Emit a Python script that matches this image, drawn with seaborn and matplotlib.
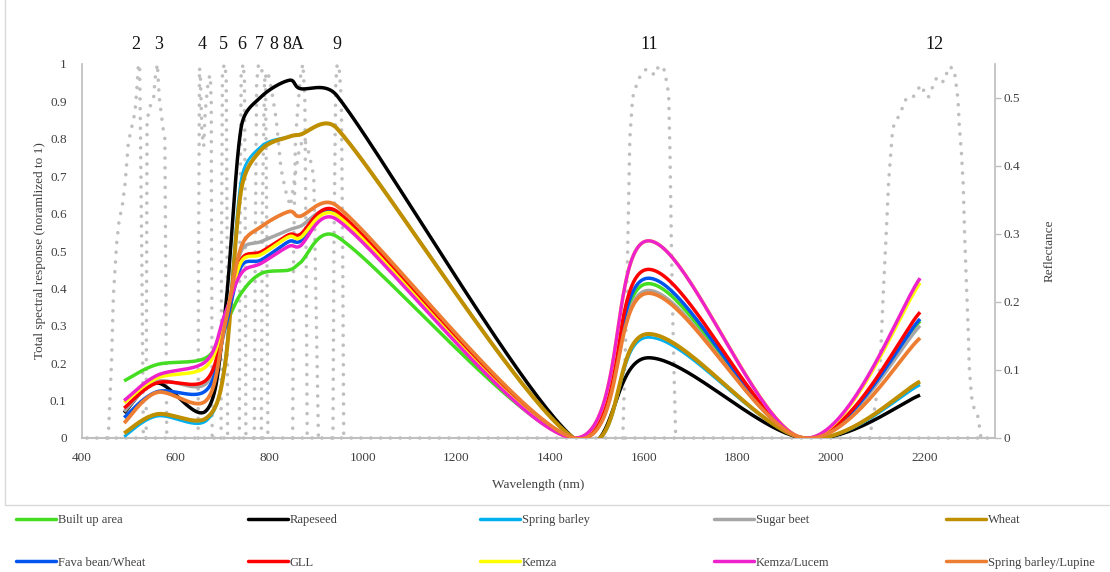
import matplotlib
matplotlib.use("Agg")
import matplotlib.pyplot as plt
from matplotlib.lines import Line2D
from matplotlib.ticker import FuncFormatter, MultipleLocator
import numpy as np
import pandas as pd
import seaborn as sns

# ~~~~~~~~~~~~~~~~~~~~~~~~~~~~~~~~~~~~~~~~~~~~~~~~~~~~~~~~~~~~~~~~~~~~~~~~~~~~~~~~~~
# DATA: mean reflectance per class at Sentinel-2 band centres (right axis)
# ~~~~~~~~~~~~~~~~~~~~~~~~~~~~~~~~~~~~~~~~~~~~~~~~~~~~~~~~~~~~~~~~~~~~~~~~~~~~~~~~~~
wavelength = [490, 560, 665, 705, 740, 783, 842, 865, 945, 1450, 1610, 1940, 2190]

class_names = ["Built up area", "Rapeseed", "Spring barley", "Sugar beet", "Wheat",
               "Fava bean/Wheat", "GLL", "Kemza", "Kemza/Lucem", "Spring barley/Lupine"]
class_colors = ["#44DD22", "#000000", "#00B0F0", "#A6A6A6", "#BF8F00",
                "#0055EE", "#FF0000", "#FFFF00", "#EE22CC", "#ED7D31"]

built_up = [0.084, 0.108, 0.118, 0.165, 0.213, 0.242, 0.247, 0.257, 0.296, 0, 0.227, 0, 0.172]
rapeseed = [0.037, 0.081, 0.040, 0.182, 0.457, 0.502, 0.526, 0.514, 0.503, 0, 0.118, 0, 0.063]
spring_barley = [0.002, 0.032, 0.025, 0.110, 0.380, 0.429, 0.443, 0.446, 0.455, 0, 0.148, 0, 0.078]
sugar_beet = [0.039, 0.083, 0.080, 0.171, 0.275, 0.289, 0.306, 0.311, 0.330, 0, 0.217, 0, 0.165]
wheat = [0.007, 0.035, 0.029, 0.105, 0.365, 0.424, 0.443, 0.446, 0.455, 0, 0.153, 0, 0.083]
fava_wheat = [0.030, 0.068, 0.070, 0.160, 0.252, 0.262, 0.289, 0.289, 0.330, 0, 0.235, 0, 0.175]
gll = [0.044, 0.081, 0.085, 0.171, 0.262, 0.274, 0.299, 0.299, 0.333, 0, 0.248, 0, 0.185]
kemza = [0.052, 0.088, 0.105, 0.176, 0.259, 0.270, 0.296, 0.294, 0.327, 0, 0.290, 0, 0.228]
kemza_lucem = [0.055, 0.092, 0.113, 0.182, 0.242, 0.257, 0.282, 0.282, 0.321, 0, 0.290, 0, 0.235]
barley_lupine = [0.022, 0.067, 0.055, 0.165, 0.281, 0.311, 0.333, 0.326, 0.341, 0, 0.213, 0, 0.147]

class_values = [built_up, rapeseed, spring_barley, sugar_beet, wheat,
                fava_wheat, gll, kemza, kemza_lucem, barley_lupine]

# ~~~~~~~~~~~~~~~~~~~~~~~~~~~~~~~~~~~~~~~~~~~~~~~~~~~~~~~~~~~~~~~~~~~~~~~~~~~~~~~~~~
# Spectral response functions (left axis, normalized to 1)
# ~~~~~~~~~~~~~~~~~~~~~~~~~~~~~~~~~~~~~~~~~~~~~~~~~~~~~~~~~~~~~~~~~~~~~~~~~~~~~~~~~~
b2_wl = [456, 463, 467, 474, 480, 485, 492, 499, 506, 513, 517, 520, 523, 525, 528, 531]
b2_resp = [0, 0.2, 0.38, 0.52, 0.59, 0.61, 0.68, 0.79, 0.83, 0.87, 0.93, 0.99, 1.0, 0.8, 0.45, 0]
b3_wl = [537, 538, 539, 545, 553, 556, 561, 565, 570, 574, 577, 579, 581]
b3_resp = [0, 0.45, 0.85, 0.885, 0.91, 0.96, 1.0, 0.91, 0.86, 0.82, 0.8, 0.4, 0]
b4_wl = [648, 649, 651, 653, 656, 660, 663, 670, 674, 676, 677, 678]
b4_resp = [0, 0.5, 0.99, 0.96, 0.82, 0.78, 0.87, 0.96, 0.97, 0.9, 0.45, 0]
b5_wl = [697, 698, 700, 704, 708, 710, 711]
b5_resp = [0, 0.5, 0.98, 1.0, 0.97, 0.5, 0]
b6_wl = [736, 737, 740, 744, 747, 749, 750]
b6_resp = [0, 0.5, 0.97, 1.0, 0.96, 0.5, 0]
b7_wl = [768, 770, 773, 777, 785, 792, 795, 797]
b7_resp = [0, 0.5, 0.95, 1.0, 0.98, 0.95, 0.5, 0]
b8_wl = [783, 785, 790, 797, 805, 815, 825, 835, 845, 855, 865, 875, 885, 895, 900, 905]
b8_resp = [0, 0.6, 0.96, 0.98, 0.93, 0.85, 0.72, 0.66, 0.62, 0.7, 0.78, 0.8, 0.76, 0.7, 0.35, 0]
b8a_wl = [850, 852, 856, 862, 868, 872, 876, 879, 881]
b8a_resp = [0, 0.5, 0.8, 0.9, 0.98, 1.0, 0.9, 0.45, 0]
b9_wl = [936, 938, 942, 945, 950, 954, 957, 959]
b9_resp = [0, 0.5, 0.95, 1.0, 0.98, 0.9, 0.45, 0]
b11_wl = [1555, 1562, 1567, 1570, 1576, 1587, 1596, 1606, 1615, 1623, 1630, 1641, 1645,
          1649, 1653, 1656, 1659, 1663, 1668]
b11_resp = [0, 0.3, 0.6, 0.8, 0.91, 0.955, 0.976, 0.987, 0.98, 0.97, 0.99, 0.995, 0.976,
            0.95, 0.92, 0.75, 0.5, 0.25, 0]
b12_wl = [2082, 2095, 2105, 2111, 2118, 2123, 2131, 2135, 2145, 2152, 2158, 2173, 2182,
          2193, 2199, 2207, 2214, 2218, 2227, 2240, 2246, 2250, 2261, 2265, 2271, 2274,
          2278, 2282, 2285, 2289, 2293, 2295, 2300, 2306, 2314, 2320]
b12_resp = [0, 0.094, 0.2, 0.377, 0.556, 0.69, 0.82, 0.842, 0.861, 0.882, 0.904, 0.906,
            0.928, 0.944, 0.925, 0.91, 0.925, 0.947, 0.966, 0.952, 0.971, 0.992, 0.989,
            0.966, 0.904, 0.83, 0.77, 0.68, 0.55, 0.41, 0.28, 0.19, 0.11, 0.075, 0.056, 0]
baseline_wl = [410, 2335]
baseline_resp = [0, 0]

srf_bands = [(b2_wl, b2_resp), (b3_wl, b3_resp), (b4_wl, b4_resp), (b5_wl, b5_resp),
             (b6_wl, b6_resp), (b7_wl, b7_resp), (b8_wl, b8_resp), (b8a_wl, b8a_resp),
             (b9_wl, b9_resp), (b11_wl, b11_resp), (b12_wl, b12_resp),
             (baseline_wl, baseline_resp)]

band_labels = ["2", "3", "4", "5", "6", "7", "8", "8A", "9", "11", "12"]
band_label_wl = [515, 563, 657, 702, 742, 779, 809, 851, 945, 1611, 2220]


def excel_smooth(x, y, n=50, sx=0.4675, sy=680.0):
    """Smoothed line through the points: Catmull-Rom Bezier in pixel space,
    control arms clamped to half the segment so short segments do not loop."""
    p = np.column_stack([np.asarray(x, float) * sx, np.asarray(y, float) * sy])
    pe = np.vstack([p[0], p, p[-1]])
    t = np.linspace(0, 1, n)[:, None]
    out = []
    for i in range(len(p) - 1):
        p0, p1, p2, p3 = pe[i], pe[i + 1], pe[i + 2], pe[i + 3]
        d12 = np.hypot(*(p2 - p1))
        a1 = (p2 - p0) / 6
        a2 = (p3 - p1) / 6
        for a in (a1, a2):
            la = np.hypot(*a)
            if la > 0.5 * d12:
                a *= 0.5 * d12 / la
        c1 = p1 + a1
        c2 = p2 - a2
        seg = (1 - t) ** 3 * p1 + 3 * (1 - t) ** 2 * t * c1 + 3 * (1 - t) * t ** 2 * c2 + t ** 3 * p2
        out.append(seg if i == 0 else seg[1:])
    out = np.vstack(out)
    return out[:, 0] / sx, out[:, 1] / sy


# ~~~~~~~~~~~~~~~~~~~~~~~~~~~~~~~~~~~~~~~~~~~~~~~~~~~~~~~~~~~~~~~~~~~~~~~~~~~~~~~~~~
# PLOT
# ~~~~~~~~~~~~~~~~~~~~~~~~~~~~~~~~~~~~~~~~~~~~~~~~~~~~~~~~~~~~~~~~~~~~~~~~~~~~~~~~~~
sns.set_theme(style="white")
plt.rcParams["font.family"] = ["Liberation Serif", "DejaVu Serif"]
text_col = "#404040"
grid_col = "#BFBFBF"

fig = plt.figure(figsize=(11.1, 5.72), dpi=100)
fig.patch.set_facecolor("white")
ax = fig.add_axes([82 / 1110, 134 / 572, 913 / 1110, 374 / 572])
ax2 = ax.twinx()
ax2.patch.set_visible(False)

dotted = (0, (0.01, 2.7))
for wl, resp in srf_bands:
    sns.lineplot(x=wl, y=resp, ax=ax, color="#BFBFBF", lw=2.6, linestyle=dotted,
                 dash_capstyle="round", sort=False, estimator=None, clip_on=False)

rows = []
for name, vals in zip(class_names, class_values):
    xs, ys = excel_smooth(wavelength, vals)
    rows.append(pd.DataFrame({"wl": xs, "refl": ys, "cls": name}))
df = pd.concat(rows, ignore_index=True)

widths = {"Spring barley": 2.0, "Wheat": 2.9, "Spring barley/Lupine": 2.7}
for name, col in zip(class_names, class_colors):
    sub = df[df["cls"] == name]
    sns.lineplot(data=sub, x="wl", y="refl", ax=ax2, color=col, lw=widths.get(name, 2.5),
                 sort=False, estimator=None, solid_capstyle="butt")

fmt = FuncFormatter(lambda v, p: f"{v:g}")
ax.set_xlim(400, 2350)
ax.set_ylim(0, 1)
ax.xaxis.set_major_locator(MultipleLocator(200))
ax.yaxis.set_major_locator(MultipleLocator(0.1))
ax.yaxis.set_major_formatter(fmt)
ax2.set_ylim(0, 0.55)
ax2.yaxis.set_major_locator(MultipleLocator(0.1))
ax2.yaxis.set_major_formatter(fmt)

for a in (ax, ax2):
    for s in a.spines.values():
        s.set_visible(False)
ax.spines["left"].set_visible(True)
ax.spines["left"].set_color(grid_col)
ax.spines["bottom"].set_visible(True)
ax.spines["bottom"].set_color(grid_col)
ax.spines["bottom"].set_linewidth(1.5)
ax2.spines["right"].set_visible(True)
ax2.spines["right"].set_color(grid_col)

ax.tick_params(axis="both", length=0, labelsize=9.5, labelcolor=text_col)
ax.tick_params(axis="y", pad=11)
ax.tick_params(axis="x", pad=10)
ax2.tick_params(axis="y", length=4, width=1, color=grid_col, labelsize=9.5,
                labelcolor=text_col, pad=2)

ax.set_xlabel("Wavelength (nm)", fontsize=9.5, color=text_col, va="center")
ax.xaxis.set_label_coords(0.5, -0.126)
ax.set_ylabel("Total spectral response (noramlized to 1)", fontsize=9.5, color=text_col,
              va="center")
ax.yaxis.set_label_coords(-0.046, 0.5)
ax2.set_ylabel("Reflectance", fontsize=9.5, color=text_col, va="center")
ax2.yaxis.set_label_coords(1.060, 0.5)

for lab, wl in zip(band_labels, band_label_wl):
    ax.text(wl, 1.051, lab, transform=ax.get_xaxis_transform(), ha="center",
            va="center", fontsize=13, color="#111111")

# chart-area frame
fig.add_artist(Line2D([5 / 1110, 5 / 1110], [1, 1 - 505 / 572], transform=fig.transFigure,
                      color="#D9D9D9", lw=1))
fig.add_artist(Line2D([5 / 1110, 1], [1 - 505 / 572, 1 - 505 / 572], transform=fig.transFigure,
                      color="#D9D9D9", lw=1))

# legend, five columns below the chart
handles = [Line2D([], [], color=c, lw=2.5) for c in class_colors]
col_x = [16, 248, 480, 714, 946]
for i, x in enumerate(col_x):
    fig.legend(handles=[handles[i], handles[i + 5]],
               labels=[class_names[i], class_names[i + 5]],
               loc="upper left", bbox_to_anchor=(x / 1110, 1 - 514 / 572),
               frameon=False, fontsize=9, handlelength=3.2, handletextpad=0.15,
               labelspacing=2.45, borderpad=0, borderaxespad=0, labelcolor=text_col)

fig.savefig("out.png", dpi=100, facecolor="white")
